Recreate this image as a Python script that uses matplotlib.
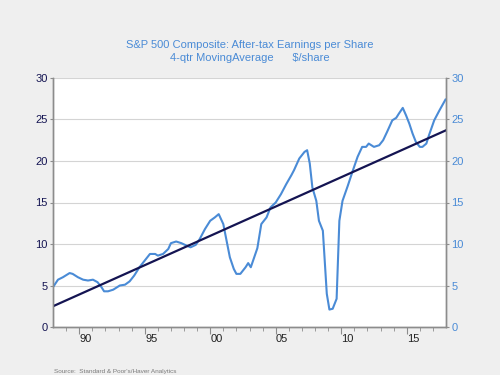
import matplotlib
matplotlib.use("Agg")
import matplotlib.pyplot as plt
import numpy as np

# ---- data ----
eps_years = [1988.0, 1988.38, 1988.76, 1989.27, 1989.5, 1989.9, 1990.3, 1990.67,
             1991.05, 1991.4, 1991.7, 1991.9, 1992.2, 1992.6, 1993.1, 1993.5,
             1993.85, 1994.2, 1994.6, 1995.0, 1995.4, 1995.8, 1996.0, 1996.4,
             1996.8, 1997.0, 1997.4, 1997.8, 1998.2, 1998.5, 1998.9, 1999.2,
             1999.6, 2000.0, 2000.35, 2000.65, 2001.0, 2001.2, 2001.5, 2001.8,
             2002.0, 2002.3, 2002.7, 2002.9, 2003.1, 2003.6, 2003.9, 2004.3,
             2004.6, 2005.0, 2005.4, 2005.8, 2006.2, 2006.4, 2006.8, 2007.2,
             2007.4, 2007.6, 2007.8, 2008.1, 2008.3, 2008.6, 2008.9, 2009.1,
             2009.35, 2009.65, 2009.86, 2010.1, 2010.5, 2010.9, 2011.25, 2011.6,
             2011.9, 2012.1, 2012.5, 2012.9, 2013.2, 2013.5, 2013.9, 2014.2,
             2014.4, 2014.7, 2014.95, 2015.2, 2015.45, 2015.7, 2016.0, 2016.2,
             2016.5, 2016.7, 2017.1, 2017.5, 2017.96]
eps_values = [4.8, 5.7, 6.0, 6.5, 6.4, 6.0, 5.7, 5.6,
              5.7, 5.4, 4.8, 4.3, 4.3, 4.5, 5.0, 5.1,
              5.5, 6.2, 7.2, 8.0, 8.8, 8.8, 8.6, 8.8,
              9.4, 10.1, 10.3, 10.1, 9.8, 9.6, 9.9, 10.6,
              11.8, 12.8, 13.2, 13.6, 12.4, 10.8, 8.4, 7.0,
              6.4, 6.4, 7.2, 7.7, 7.2, 9.5, 12.4, 13.2,
              14.4, 15.0, 16.0, 17.2, 18.3, 18.9, 20.3, 21.1,
              21.3, 19.7, 16.8, 15.2, 12.8, 11.6, 4.0, 2.1,
              2.2, 3.4, 12.8, 15.2, 17.0, 18.9, 20.5, 21.7,
              21.7, 22.1, 21.7, 21.9, 22.5, 23.5, 24.9, 25.2,
              25.7, 26.4, 25.5, 24.5, 23.3, 22.3, 21.7, 21.7,
              22.1, 23.1, 24.9, 26.1, 27.4]

trend_years = [1988.0, 2018.0]
trend_values = [2.5, 23.7]

label_years = [1990, 1995, 2000, 2005, 2010, 2015]
label_text = ["90", "95", "00", "05", "10", "15"]
y_ticks = [0, 5, 10, 15, 20, 25, 30]

# ---- style ----
BG = "#efefef"
BLUE = "#4a8bd6"
NAVY = "#141452"
SPINE = "#8c8c8c"
GRID = "#d4d4d4"

plt.rcParams["font.family"] = ["Liberation Sans", "DejaVu Sans"]

fig = plt.figure(figsize=(5, 3.75), dpi=100, facecolor=BG)
ax = fig.add_axes([0.106, 0.128, 0.786, 0.664])
ax.set_facecolor("white")

ax.plot(eps_years, eps_values, color=BLUE, lw=1.5, zorder=3)
ax.plot(trend_years, trend_values, color=NAVY, lw=1.6, zorder=4)

ax.set_xlim(1988, 2018)
ax.set_ylim(0, 30)

ax.set_yticks(y_ticks)
ax.set_yticklabels([str(v) for v in y_ticks])
ax.tick_params(axis="y", labelsize=8, colors=NAVY, length=2, width=0.8,
               pad=2, labelcolor=NAVY)
ax.tick_params(axis="y", color=SPINE)
ax.grid(axis="y", color=GRID, lw=0.8)
ax.set_axisbelow(True)

# year ticks (minor) and 5-year ticks (major), labels centred in the year
ax.set_xticks(label_years)
ax.set_xticklabels([])
ax.set_xticks(np.arange(1989, 2018), minor=True)
ax.tick_params(axis="x", which="major", length=5, width=0.8, color=SPINE)
ax.tick_params(axis="x", which="minor", length=3, width=0.6, color=SPINE)

sec = ax.secondary_xaxis("bottom")
sec.set_xticks([y + 0.5 for y in label_years])
sec.set_xticklabels(label_text)
sec.tick_params(length=0, labelsize=8, pad=5, labelcolor="#222222")
sec.spines["bottom"].set_visible(False)

axr = ax.twinx()
axr.set_ylim(0, 30)
axr.set_yticks(y_ticks)
axr.set_yticklabels([str(v) for v in y_ticks])
axr.tick_params(axis="y", labelsize=8, labelcolor=BLUE, color=SPINE,
                length=2, width=0.8, pad=2)

for a in (ax, axr):
    a.spines["top"].set_visible(False)
    for side in ("left", "right", "bottom"):
        a.spines[side].set_color(SPINE)
        a.spines[side].set_linewidth(1.0)

fig.text(0.5, 0.880, "S&P 500 Composite: After-tax Earnings per Share",
         ha="center", va="center", fontsize=8, color=BLUE)
fig.text(0.5, 0.845, "4-qtr MovingAverage      $/share",
         ha="center", va="center", fontsize=8, color=BLUE)
fig.text(0.108, 0.003, "Source:  Standard & Poor's/Haver Analytics",
         ha="left", va="bottom", fontsize=4.6, color="#7a7a7a")

fig.savefig("out.png", dpi=100, facecolor=BG)
